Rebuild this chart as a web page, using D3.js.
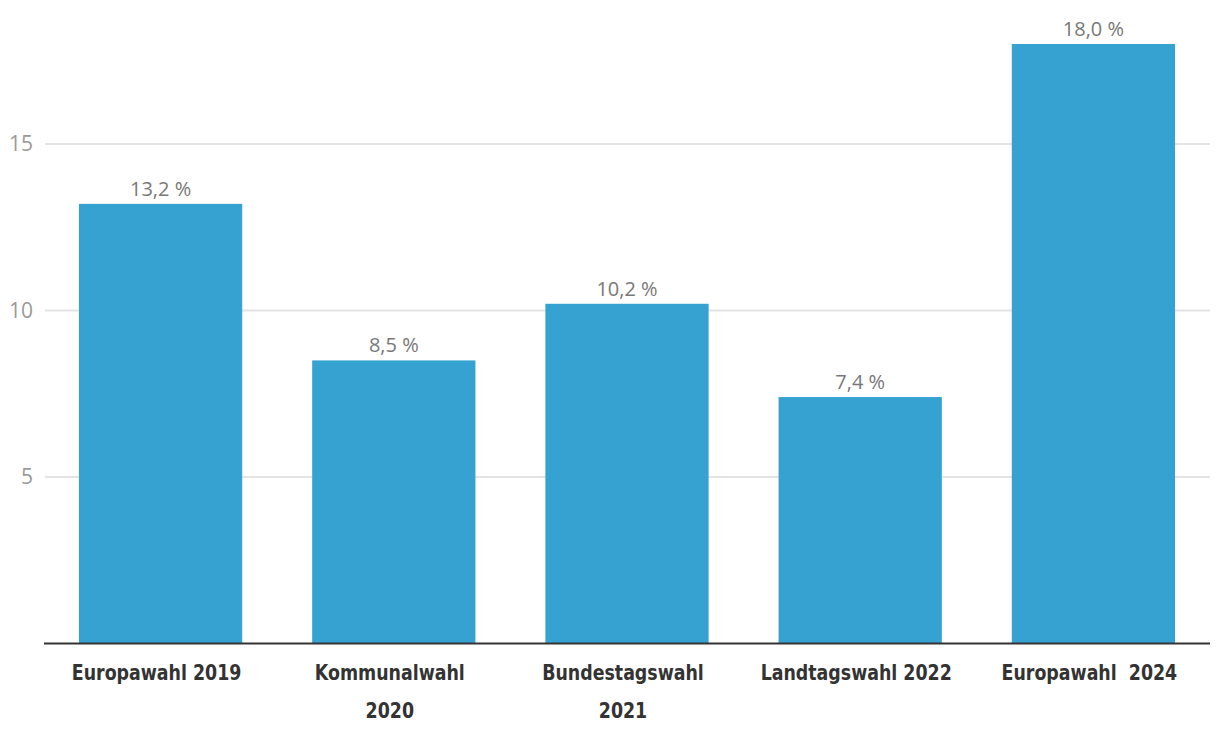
<!DOCTYPE html>
<html><head><meta charset="utf-8">
<script src="https://cdn.jsdelivr.net/npm/d3@7"></script>
<style>
body{margin:0;background:#fff;}
svg{display:block;}
</style></head>
<body>
<svg id="chart" width="1220" height="740"></svg>
<script>
const categories = [["Europawahl 2019"], ["Kommunalwahl", "2020"], ["Bundestagswahl", "2021"], ["Landtagswahl 2022"], ["Europawahl\u00a0 2024"]];
const values = [13.2, 8.5, 10.2, 7.4, 18.0];
const yTicks = [5, 10, 15];

(function () {
const svg = d3.select("#chart");
const mLeft = 44, mRight = 1210, mTop = 44, mBottom = 643.5;
const x = d3.scaleBand().domain(d3.range(values.length)).range([mLeft, mRight]).paddingInner(0.3).paddingOuter(0.15);
const y = d3.scaleLinear().domain([0, 18]).range([mBottom, mTop]);

const labelFont = "'Liberation Sans Narrow','DejaVu Sans Condensed',sans-serif";
const valFont = "'Open Sans','Noto Sans',sans-serif";

// gridlines
svg.append("g").selectAll("line").data(yTicks).join("line")
  .attr("x1", mLeft + 1).attr("x2", mRight)
  .attr("y1", d => y(d)).attr("y2", d => y(d))
  .attr("stroke", "#e3e3e3").attr("stroke-width", 2);
svg.append("g").selectAll("text").data(yTicks).join("text")
  .attr("x", 33).attr("y", d => y(d)).attr("dy", "0.35em")
  .attr("text-anchor", "end").attr("fill", "#9a9a9a")
  .attr("font-family", valFont).attr("font-size", 21).text(d => d);

// bars
svg.append("g").selectAll("rect").data(values).join("rect")
  .attr("x", (d, i) => x(i)).attr("width", x.bandwidth())
  .attr("y", d => y(d)).attr("height", d => mBottom - y(d))
  .attr("fill", "#36a2d2");

// value labels
svg.append("g").selectAll("text").data(values).join("text")
  .attr("x", (d, i) => x(i) + x.bandwidth() / 2).attr("y", d => y(d) - 8)
  .attr("text-anchor", "middle").attr("fill", "#787878")
  .attr("font-family", valFont).attr("font-size", 20)
  .text(d => d.toFixed(1).replace(".", ",") + " %");

// baseline
svg.append("line").attr("x1", mLeft).attr("x2", mRight).attr("y1", mBottom).attr("y2", mBottom)
  .attr("stroke", "#333").attr("stroke-width", 2);

// category labels (horizontally condensed)
const cg = svg.append("g").selectAll("text").data(categories).join("text")
  .attr("transform", (d, i) => `translate(${x(i) + x.bandwidth() / 2 - 4},0) scale(0.9,1)`)
  .attr("text-anchor", "middle").attr("fill", "#333")
  .attr("font-family", labelFont).attr("font-weight", "bold").attr("font-size", 21.5);
cg.selectAll("tspan").data(d => d).join("tspan")
  .attr("x", 0)
  .attr("y", (d, j) => 680 + j * 38).text(d => d);
})();
</script>
</body></html>
